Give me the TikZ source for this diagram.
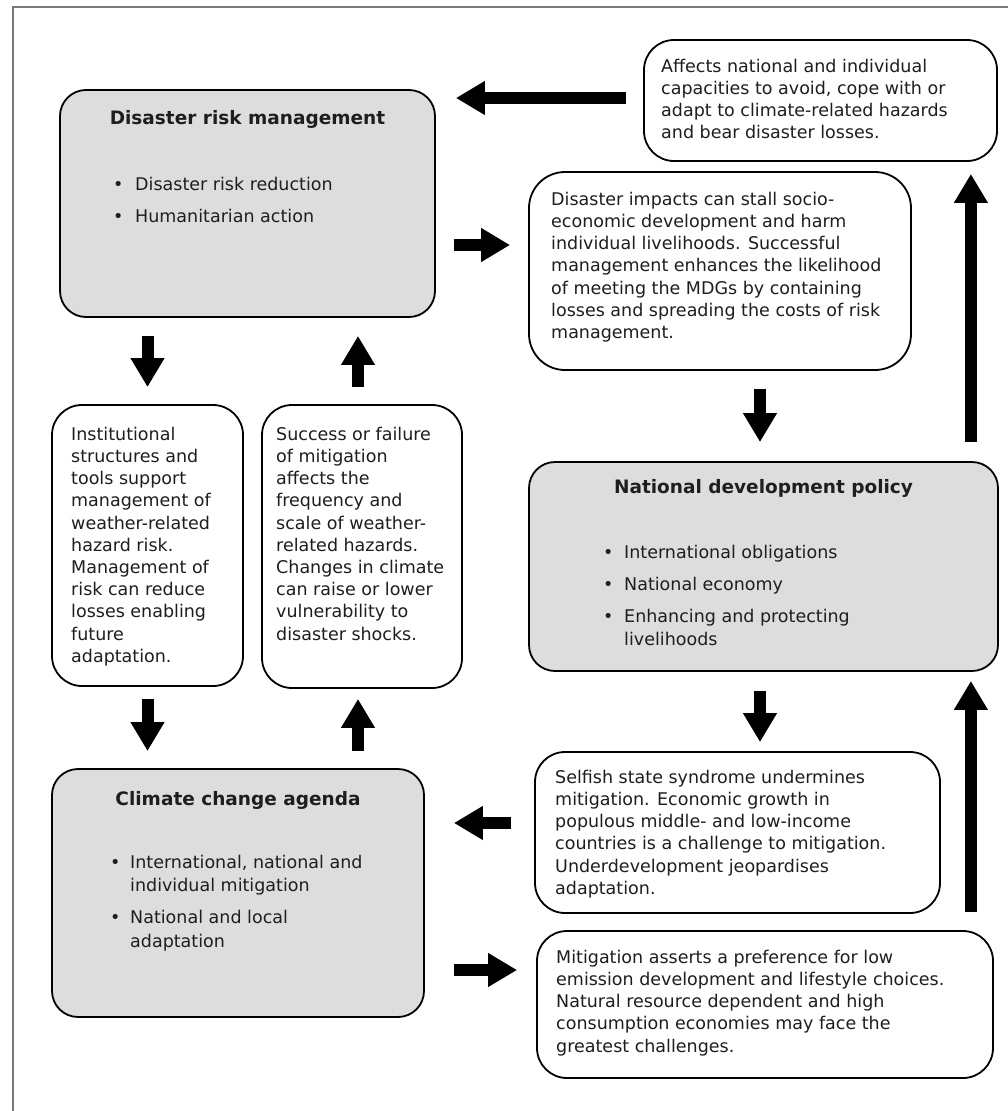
\documentclass[tikz,border=0pt]{standalone}
\usepackage{fontspec}
\setmainfont{DejaVu Sans}
\usetikzlibrary{arrows.meta,calc}
\definecolor{boxgray}{RGB}{221,221,221}
\definecolor{inkgray}{RGB}{30,30,30}
\definecolor{framegray}{RGB}{120,120,120}
\begin{document}
\begin{tikzpicture}[x=1pt,y=1pt,yscale=-1,
    graybox/.style={draw=black, line width=1.8pt, fill=boxgray, rounded corners=26pt, inner sep=0pt},
    textbox/.style={draw=black, line width=1.8pt, fill=white, rounded corners=30pt, inner sep=0pt},
    boxtext/.style={anchor=north west, inner sep=0pt, align=left, text=inkgray, font=\fontsize{17.5}{22.2}\selectfont},
    boxtitle/.style={anchor=base, inner sep=0pt, text=inkgray, font=\fontsize{18.5}{22}\selectfont\bfseries},
    bulletlist/.style={anchor=north west, inner sep=0pt, text=inkgray, font=\fontsize{17.5}{23.5}\selectfont},
    bigarrow/.style={line width=12pt, -{Triangle[width=32pt,length=29pt]}}]
\useasboundingbox (0,0) rectangle (1008,1111);

%Frame
    \draw [framegray, line width=2pt] (13,1111) -- (13,7) -- (1008,7) ;

%Shape: Rounded Rect [id:drm]
    \node [graybox, minimum width=375pt, minimum height=227pt] (drm) at (247.5,203.5) {};
%Shape: Rounded Rect [id:aff]
    \node [textbox, minimum width=353pt, minimum height=121pt] (aff) at (820.5,100.5) {};
%Shape: Rounded Rect [id:imp]
    \node [textbox, rounded corners=36pt, minimum width=382pt, minimum height=198pt] (imp) at (720,271) {};
%Shape: Rounded Rect [id:inst]
    \node [textbox, minimum width=191pt, minimum height=281pt] (inst) at (147.5,545.5) {};
%Shape: Rounded Rect [id:succ]
    \node [textbox, minimum width=200pt, minimum height=283pt] (succ) at (362,546.5) {};
%Shape: Rounded Rect [id:ndp]
    \node [graybox, minimum width=469pt, minimum height=209pt] (ndp) at (763.5,566.5) {};
%Shape: Rounded Rect [id:cca]
    \node [graybox, minimum width=372pt, minimum height=248pt] (cca) at (238,893) {};
%Shape: Rounded Rect [id:self]
    \node [textbox, minimum width=405pt, minimum height=161pt] (self) at (737.5,832.5) {};
%Shape: Rounded Rect [id:mit]
    \node [textbox, minimum width=456pt, minimum height=147pt] (mit) at (765,1004.5) {};

% Text Node
    \node [boxtitle] (drmtitle) at (247.5,124) {Disaster risk management};
    \node [bulletlist] (drmlist) at (113,173.5) {\begin{tabular}{@{}p{22pt}@{}l@{}}
      \textbullet & Disaster risk reduction\\[8.5pt]
      \textbullet & Humanitarian action
    \end{tabular}};
% Text Node
    \node [boxtitle] (ndptitle) at (763.5,493) {National development policy};
    \node [bulletlist] (ndplist) at (603,541.5) {\begin{tabular}{@{}p{21pt}@{}l@{}}
      \textbullet & International obligations\\[8.5pt]
      \textbullet & National economy\\[8.5pt]
      \textbullet & Enhancing and protecting\\
                  & livelihoods
    \end{tabular}};
% Text Node
    \node [boxtitle] (ccatitle) at (238,805) {Climate change agenda};
    \node [bulletlist] (ccalist) at (110,851.5) {\begin{tabular}{@{}p{20pt}@{}l@{}}
      \textbullet & International, national and\\
                  & individual mitigation\\[8.5pt]
      \textbullet & National and local\\
                  & adaptation
    \end{tabular}};

% Text Node
    \node [boxtext] (afftext) at (661,58.7) {Affects national and individual\\capacities to avoid, cope with or\\adapt to climate-related hazards\\and bear disaster losses.};
% Text Node
    \node [boxtext] (imptext) at (551,191.7) {Disaster impacts can stall socio-\\economic development and harm\\individual livelihoods. Successful\\management enhances the likelihood\\of meeting the MDGs by containing\\losses and spreading the costs of risk\\management.};
% Text Node
    \node [boxtext] (insttext) at (71,426.7) {Institutional\\structures and\\tools support\\management of\\weather-related\\hazard risk.\\Management of\\risk can reduce\\losses enabling\\future\\adaptation.};
% Text Node
    \node [boxtext] (succtext) at (276,426.7) {Success or failure\\of mitigation\\affects the\\frequency and\\scale of weather-\\related hazards.\\Changes in climate\\can raise or lower\\vulnerability to\\disaster shocks.};
% Text Node
    \node [boxtext] (selftext) at (555,769.7) {Selfish state syndrome undermines\\mitigation. Economic growth in\\populous middle- and low-income\\countries is a challenge to mitigation.\\Underdevelopment jeopardises\\adaptation.};
% Text Node
    \node [boxtext] (mittext) at (556,949.7) {Mitigation asserts a preference for low\\emission development and lifestyle choices.\\Natural resource dependent and high\\consumption economies may face the\\greatest challenges.};

%Straight Lines
    \draw [bigarrow] ($(aff.west)+(-17,-2.5)$) -- ($(drm.east |- aff.west)+(20,-2.5)$) ;
    \draw [bigarrow] ($(drm.east)+(18,41.5)$) -- ($(imp.west |- drm.east)+(-18,41.5)$) ;
    \draw [bigarrow] ($(inst.north |- drm.south)+(0,18)$) -- ($(inst.north)+(0,-17)$) ;
    \draw [bigarrow] ($(succ.north)+(-4,-17)$) -- ($(succ.north |- drm.south)+(-4,18)$) ;
    \draw [bigarrow] ($(inst.south)+(0,12)$) -- ($(inst.south |- cca.north)+(0,-17)$) ;
    \draw [bigarrow] ($(succ.south |- cca.north)+(-4,-17)$) -- ($(succ.south)+(-4,10)$) ;
%Straight Lines
    \draw [bigarrow] ($(ndp.north |- imp.south)+(-3.5,18)$) -- ($(ndp.north)+(-3.5,-19)$) ;
    \draw [bigarrow] ($(ndp.south)+(-3.5,19)$) -- ($(ndp.south |- self.north)+(-3.5,-9)$) ;
    \draw [bigarrow] ($(ndp.north east)+(-28,-19)$) -- ($(ndp.north east |- aff.south)+(-28,12)$) ;
    \draw [bigarrow] ($(mit.north east)+(-23,-18)$) -- ($(mit.north east |- ndp.south)+(-23,9)$) ;
%Straight Lines
    \draw [bigarrow] ($(self.west)+(-23,-9.5)$) -- ($(cca.east |- self.west)+(29,-9.5)$) ;
    \draw [bigarrow] ($(cca.east)+(29,77)$) -- ($(mit.west |- cca.east)+(-19,77)$) ;

\end{tikzpicture}
\end{document}
